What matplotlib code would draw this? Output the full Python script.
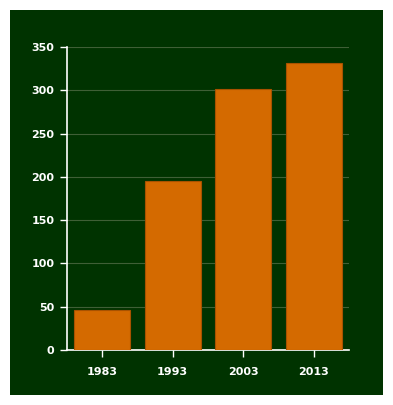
import matplotlib
matplotlib.use("Agg")
import matplotlib.pyplot as plt
from matplotlib.patches import Rectangle

years = ["1983", "1993", "2003", "2013"]
values = [46, 195, 301, 331]
yticks = [0, 50, 100, 150, 200, 250, 300, 350]

W, H = 393, 405
fig = plt.figure(figsize=(W / 100, H / 100), dpi=100)
fig.patch.set_facecolor("white")

# dark green panel, kept behind the axes
fig.patches.append(Rectangle((10 / W, 10 / H), 373 / W, 385 / H,
                             transform=fig.transFigure, facecolor="#003300",
                             edgecolor="none", zorder=-10))

ax = fig.add_axes([67 / W, (H - 350) / H, 282 / W, 303 / H])
ax.set_facecolor("none")

ax.bar(range(len(years)), values, width=0.8, color="#d46a00",
       edgecolor="#a85200", linewidth=0.8, zorder=3)

ax.set_xlim(-0.5, 3.5)
ax.set_ylim(0, 350)
ax.set_xticks(range(len(years)))
ax.set_xticklabels(years)
ax.set_yticks(yticks)

ax.yaxis.grid(True, color="#3f5f36", linewidth=0.8, zorder=1)
ax.set_axisbelow(True)

for s in ["top", "right"]:
    ax.spines[s].set_visible(False)
for s in ["left", "bottom"]:
    ax.spines[s].set_color("white")
    ax.spines[s].set_linewidth(1.2)

ax.tick_params(axis="both", colors="white", labelsize=8, length=5, width=1)
ax.tick_params(axis="x", pad=7)
ax.tick_params(axis="y", pad=4)
for lab in ax.get_xticklabels() + ax.get_yticklabels():
    lab.set_fontweight("bold")

fig.savefig("out.png", dpi=100)
